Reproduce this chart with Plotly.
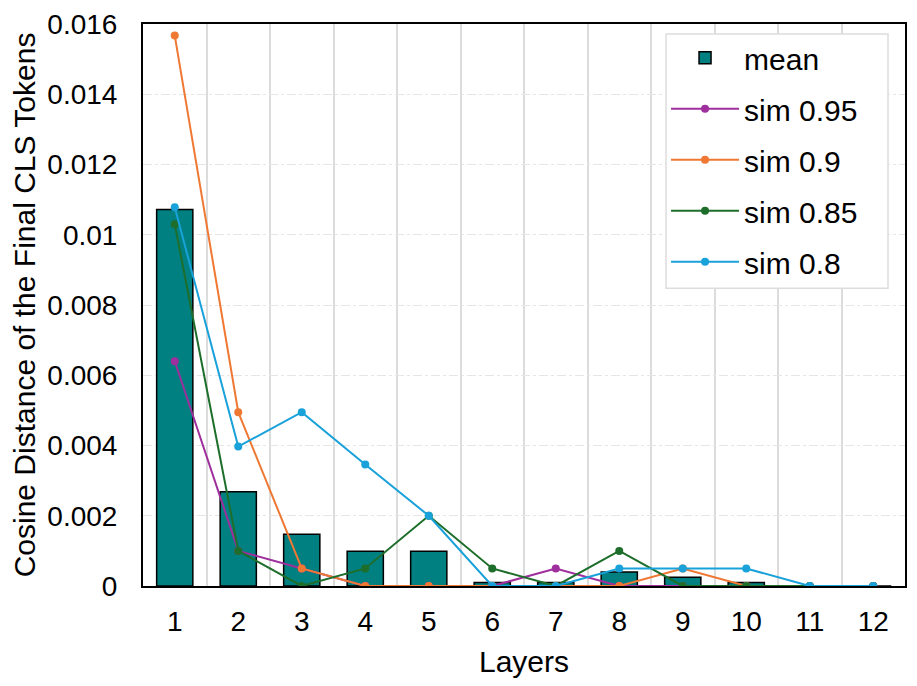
import plotly.graph_objects as go

layers = [1, 2, 3, 4, 5, 6, 7, 8, 9, 10, 11, 12]
mean_vals = [0.01072, 0.00268, 0.00147, 0.00099, 0.00099, 0.0001, 0.0001, 0.0004, 0.00025, 0.0001, 0.0, 0.0]
sim_095 = [0.0064, 0.001, 0.0005, 0.0, 0.0, 0.0, 0.0005, 0.0, 0.0, 0.0, 0.0, 0.0]
sim_090 = [0.01567, 0.00495, 0.0005, 0.0, 0.0, 0.0, 0.0, 0.0, 0.0005, 0.0, 0.0, 0.0]
sim_085 = [0.0103, 0.001, 0.0, 0.0005, 0.002, 0.0005, 0.0, 0.001, 0.0, 0.0, 0.0, 0.0]
sim_080 = [0.01078, 0.00397, 0.00495, 0.00346, 0.002, 0.0, 0.0, 0.0005, 0.0005, 0.0005, 0.0, 0.0]

y_ticks = [0, 0.002, 0.004, 0.006, 0.008, 0.01, 0.012, 0.014, 0.016]
y_ticktext = ["0", "0.002", "0.004", "0.006", "0.008", "0.01", "0.012", "0.014", "0.016"]

series = [
    ("sim 0.95", sim_095, "#9E2F9C"),
    ("sim 0.9", sim_090, "#EF7833"),
    ("sim 0.85", sim_085, "#1E6E2B"),
    ("sim 0.8", sim_080, "#19A1DA"),
]

fig = go.Figure()
fig.add_trace(go.Bar(
    x=layers, y=mean_vals, name="mean", width=0.57,
    marker=dict(color="#008080", line=dict(color="black", width=1.5)),
    legendgroup="mean",
))
for name, vals, col in series:
    fig.add_trace(go.Scatter(
        x=layers, y=vals, name=name, mode="lines+markers",
        line=dict(color=col, width=2), marker=dict(color=col, size=8),
        legendgroup=name,
    ))

# legend frame (white box behind the legend entries)
fig.add_shape(type="rect", xref="paper", yref="paper",
              x0=0.6864, x1=0.9777, y0=0.530, y1=0.982,
              fillcolor="white", line=dict(color="#dddddd", width=1.5),
              layer="above")

font = "Liberation Sans, Arial, sans-serif"
fig.update_layout(
    width=917, height=686,
    margin=dict(l=135, r=20, t=16, b=108, autoexpand=False),
    plot_bgcolor="white", paper_bgcolor="white",
    font=dict(family=font, size=28, color="black"),
    showlegend=True,
    legend=dict(
        x=0.6864, y=0.986, xanchor="left", yanchor="top",
        bgcolor="rgba(0,0,0,0)", borderwidth=0,
        font=dict(size=30), traceorder="grouped", tracegroupgap=9,
        itemwidth=68,
    ),
    xaxis=dict(
        range=[0.5, 12.5], tickmode="array", tickvals=layers,
        ticktext=[str(v) for v in layers],
        showgrid=False, showline=True, linecolor="black", linewidth=2,
        mirror=True, ticks="", zeroline=False, automargin=False,
        ticklabelstandoff=9,
        minor=dict(tickvals=[v + 0.5 for v in layers[:-1]], showgrid=True,
                   gridcolor="#dcdcdc", gridwidth=1.5, ticks=""),
        title=dict(text="Layers", font=dict(size=30)),
    ),
    yaxis=dict(
        range=[0, 0.016], tickmode="array", tickvals=y_ticks, ticktext=y_ticktext,
        showgrid=True, gridcolor="#e6e6e6", gridwidth=1, griddash="dashdot",
        showline=True, linecolor="black", linewidth=2, mirror=True,
        ticks="", zeroline=False, automargin=False, ticklabelstandoff=18,
        ticklabeloverflow="allow",
        title=dict(text="Cosine Distance of the Final CLS Tokens", font=dict(size=30)),
    ),
)

fig.write_html("out.html")
